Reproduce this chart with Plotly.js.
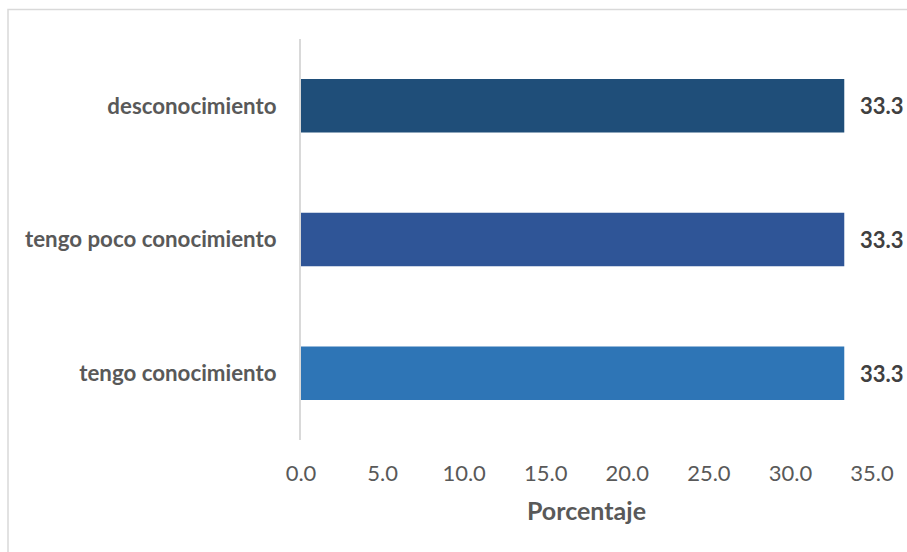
<!DOCTYPE html>
<html>
<head>
<meta charset="utf-8">
<script src="https://cdn.plot.ly/plotly-3.0.1.min.js"></script>
<style>html,body{margin:0;padding:0;background:#fff;}#chart{width:907px;height:552px;}</style>
</head>
<body>
<div id="chart"></div>
<script>
const categories = ['desconocimiento', 'tengo poco conocimiento', 'tengo conocimiento'];
const values = [33.3, 33.3, 33.3];
const barColors = ['#1F4E79', '#2F5597', '#2E75B6'];
const xTickValues = [0, 5, 10, 15, 20, 25, 30, 35];
const xTitle = 'Porcentaje';

const FONT = 'Lato, "Open Sans", sans-serif';

const trace = {
  type: 'bar',
  orientation: 'h',
  y: categories,
  x: values,
  marker: {color: barColors, line: {width: 0}},
  hoverinfo: 'none'
};

const annotations = categories.map((c, i) => ({
  x: values[i], y: c, xref: 'x', yref: 'y',
  text: '<b>' + values[i].toFixed(1) + '</b>',
  showarrow: false, xanchor: 'left', xshift: 14,
  font: {family: FONT, size: 22, color: '#404040'}
}));

const layout = {
  width: 907, height: 552,
  margin: {l: 301, r: 35, t: 39, b: 112},
  paper_bgcolor: '#ffffff', plot_bgcolor: '#ffffff',
  showlegend: false,
  bargap: 0.6,
  font: {family: FONT, color: '#595959'},
  xaxis: {
    range: [0, 35],
    tickvals: xTickValues,
    ticktext: xTickValues.map(v => v.toFixed(1)),
    showgrid: false, zeroline: false, showline: false,
    ticks: '',
    ticklabelstandoff: 18,
    tickfont: {family: FONT, size: 22, color: '#595959'},
    title: {text: '<b>' + xTitle + '</b>', font: {family: FONT, size: 25, color: '#595959'}, standoff: 17},
    fixedrange: true
  },
  yaxis: {
    type: 'category',
    autorange: 'reversed',
    showgrid: false, zeroline: false,
    showline: true, linecolor: '#D9D9D9', linewidth: 2,
    ticks: '',
    ticklabelstandoff: 18,
    tickfont: {family: FONT, size: 22.3, color: '#595959', weight: 'bold'},
    fixedrange: true
  },
  annotations: annotations,
  shapes: [{
    type: 'rect', xref: 'paper', yref: 'paper', layer: 'below',
    x0: (8 - 301) / 571, x1: (910 - 301) / 571,
    y0: (440 - 560) / 401, y1: (440 - 9.5) / 401,
    line: {color: '#D9D9D9', width: 1.5}, fillcolor: 'rgba(0,0,0,0)'
  }]
};

Plotly.newPlot('chart', [trace], layout, {displayModeBar: false, staticPlot: true});
</script>
</body>
</html>
